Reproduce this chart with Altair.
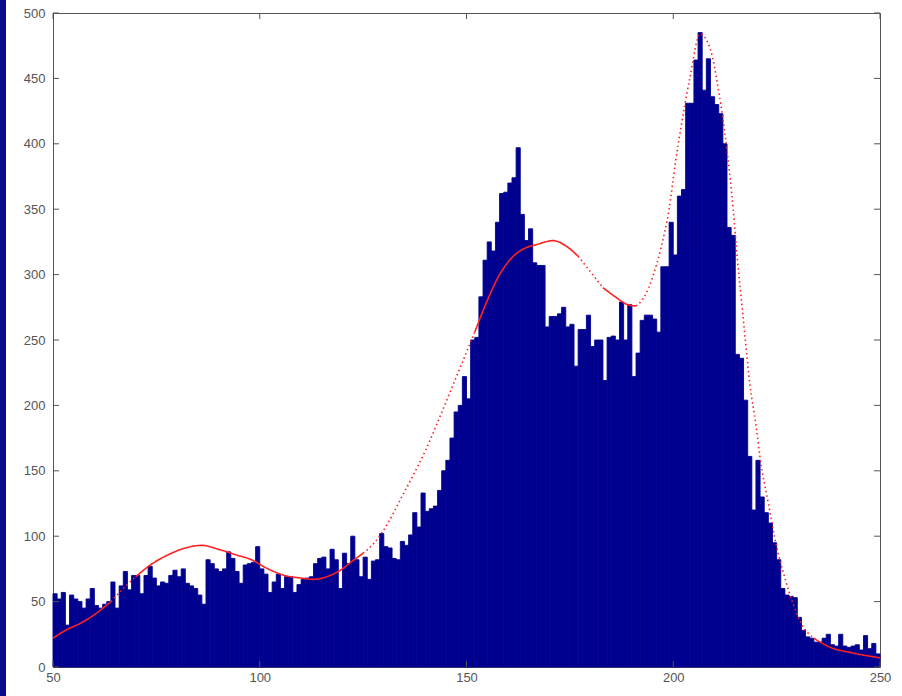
import altair as alt
import pandas as pd

# ---------------- data ----------------
bin_start = list(range(50, 250))
counts = [
    56, 52, 57, 32, 55, 52, 50, 45, 52, 60,
    47, 45, 48, 50, 65, 45, 62, 73, 59, 70,
    70, 56, 70, 77, 68, 62, 65, 64, 70, 74,
    69, 75, 64, 62, 60, 55, 48, 82, 79, 75,
    73, 75, 88, 83, 73, 64, 78, 79, 80, 92,
    75, 71, 57, 65, 71, 60, 69, 69, 57, 63,
    67, 68, 69, 79, 83, 84, 75, 90, 82, 60,
    87, 79, 100, 82, 69, 84, 67, 81, 82, 102,
    92, 91, 83, 82, 96, 93, 101, 118, 107, 133,
    119, 121, 123, 135, 150, 158, 175, 195, 200, 222,
    205, 250, 252, 283, 311, 325, 318, 340, 362, 363,
    370, 374, 397, 346, 326, 335, 309, 307, 307, 260,
    268, 268, 270, 275, 260, 262, 230, 258, 258, 269,
    245, 250, 250, 219, 252, 253, 250, 279, 250, 277,
    222, 240, 265, 269, 269, 266, 256, 306, 306, 340,
    315, 360, 365, 431, 431, 464, 485, 441, 465, 436,
    430, 423, 400, 336, 330, 239, 236, 204, 161, 120,
    158, 130, 118, 110, 95, 82, 60, 55, 54, 53,
    38, 28, 23, 22, 19, 19, 22, 25, 17, 16,
    25, 16, 15, 16, 17, 13, 24, 14, 18, 10,
]

curve_x = [50, 53, 57, 60, 64, 67, 70, 74, 78, 82, 86, 90, 94, 98, 102, 106,
           110, 113, 117, 120, 122, 125, 128, 131, 134, 137, 140, 143, 146,
           149, 152, 155, 158, 161, 164, 167, 171, 174, 177, 180, 183, 186,
           189, 191, 193, 195, 197, 199, 200.5, 202, 204, 206.5, 209, 211,
           213, 214.5, 215.5, 216.5, 217.5, 218.5, 220, 221, 223, 225, 227,
           229, 231, 234, 238, 243, 250]
curve_y = [22, 28, 34, 40, 50, 60, 69, 79, 86, 91, 93, 90, 86, 82, 75, 70,
           68, 67, 70, 75, 80, 87, 96, 110, 128, 146, 165, 187, 210,
           233, 256, 280, 300, 313, 320, 323, 326, 322, 314, 302, 290, 283,
           277, 276, 283, 298, 320, 350, 385, 415, 450, 484, 472, 440,
           395, 350, 312, 280, 248, 217, 185, 160, 125, 92, 68,
           48, 33, 22, 15, 11, 7]

x_ticks = [50, 100, 150, 200, 250]
y_ticks = [0, 50, 100, 150, 200, 250, 300, 350, 400, 450, 500]

# ---------------- layout ----------------
W, H = 827, 654
BAR = "#00008F"
TICK = 6

bars_df = pd.DataFrame({"start": bin_start,
                        "end": [b + 1 for b in bin_start],
                        "count": counts})

# split curve into solid / dotted pieces (dotted where steep above the bars)
rows = []
seg = 0
prev_style = None
for i in range(len(curve_x) - 1):
    x0, x1 = curve_x[i], curve_x[i + 1]
    y0, y1 = curve_y[i], curve_y[i + 1]
    slope = abs((y1 - y0) / (x1 - x0))
    mid = (x0 + x1) / 2
    idx = min(max(int(mid) - 50, 0), len(counts) - 1)
    above = (y0 + y1) / 2 > counts[idx]
    style = "dotted" if (slope > 2.8 and above) else "solid"
    if style != prev_style:
        seg += 1
        rows.append({"x": x0, "y": y0, "seg": seg, "style": style, "o": i})
        prev_style = style
    rows.append({"x": x1, "y": y1, "seg": seg, "style": style, "o": i + 1})
curve_df = pd.DataFrame(rows)

xscale = alt.Scale(domain=[50, 250], nice=False, zero=False)
yscale = alt.Scale(domain=[0, 500], nice=False)

label_font = "Liberation Sans"
x_axis = alt.Axis(values=x_ticks, tickSize=0, domain=False, grid=False,
                  title=None, labelFontSize=13, labelColor="#555",
                  labelFont=label_font, labelPadding=4, labelFlush=False,
                  labelOverlap=False)
y_axis = alt.Axis(values=y_ticks, tickSize=0, domain=False, grid=False,
                  title=None, labelFontSize=13, labelColor="#555",
                  labelFont=label_font, labelPadding=8, labelFlush=False,
                  labelOverlap=False)

bars = alt.Chart(bars_df).mark_rect(color=BAR, stroke=BAR, strokeWidth=0.9).encode(
    x=alt.X("start:Q", scale=xscale, axis=x_axis),
    x2="end:Q",
    y=alt.Y("count:Q", scale=yscale, axis=y_axis),
    y2=alt.datum(0),
)

curve = alt.Chart(curve_df).mark_line(color="#FF2020", strokeWidth=1.6,
                                      interpolate="monotone").encode(
    x=alt.X("x:Q", scale=xscale),
    y=alt.Y("y:Q", scale=yscale),
    detail="seg:N",
    order="o:Q",
    strokeDash=alt.StrokeDash("style:N",
                              scale=alt.Scale(domain=["solid", "dotted"],
                                              range=[[1, 0], [1.5, 3]]),
                              legend=None),
)

yt = pd.DataFrame({"v": y_ticks})
xt = pd.DataFrame({"v": x_ticks})
tick_style = dict(color="#555", strokeWidth=1)
left_ticks = alt.Chart(yt).mark_rule(**tick_style).encode(
    y=alt.Y("v:Q", scale=yscale), x=alt.value(0), x2=alt.value(TICK))
right_ticks = alt.Chart(yt).mark_rule(**tick_style).encode(
    y=alt.Y("v:Q", scale=yscale), x=alt.value(W - TICK), x2=alt.value(W))
bottom_ticks = alt.Chart(xt).mark_rule(**tick_style).encode(
    x=alt.X("v:Q", scale=xscale), y=alt.value(H), y2=alt.value(H - TICK))
top_ticks = alt.Chart(xt).mark_rule(**tick_style).encode(
    x=alt.X("v:Q", scale=xscale), y=alt.value(0), y2=alt.value(TICK))

# navy strip at the left edge of the picture (decoration)
strip = alt.Chart(pd.DataFrame({"a": [0]})).mark_rect(color="#0B0B8A", clip=False).encode(
    x=alt.value(-53), x2=alt.value(-47), y=alt.value(-13), y2=alt.value(H + 29))

chart = alt.layer(strip, bars, curve, left_ticks, right_ticks, bottom_ticks, top_ticks).properties(
    width=W, height=H,
    padding={"left": 53, "top": 13, "right": 22, "bottom": 29},
    autosize="none",
    background="white",
).configure_view(stroke="#555", strokeWidth=1)

chart.save("out.html", embed_options={"renderer": "svg", "actions": False})
